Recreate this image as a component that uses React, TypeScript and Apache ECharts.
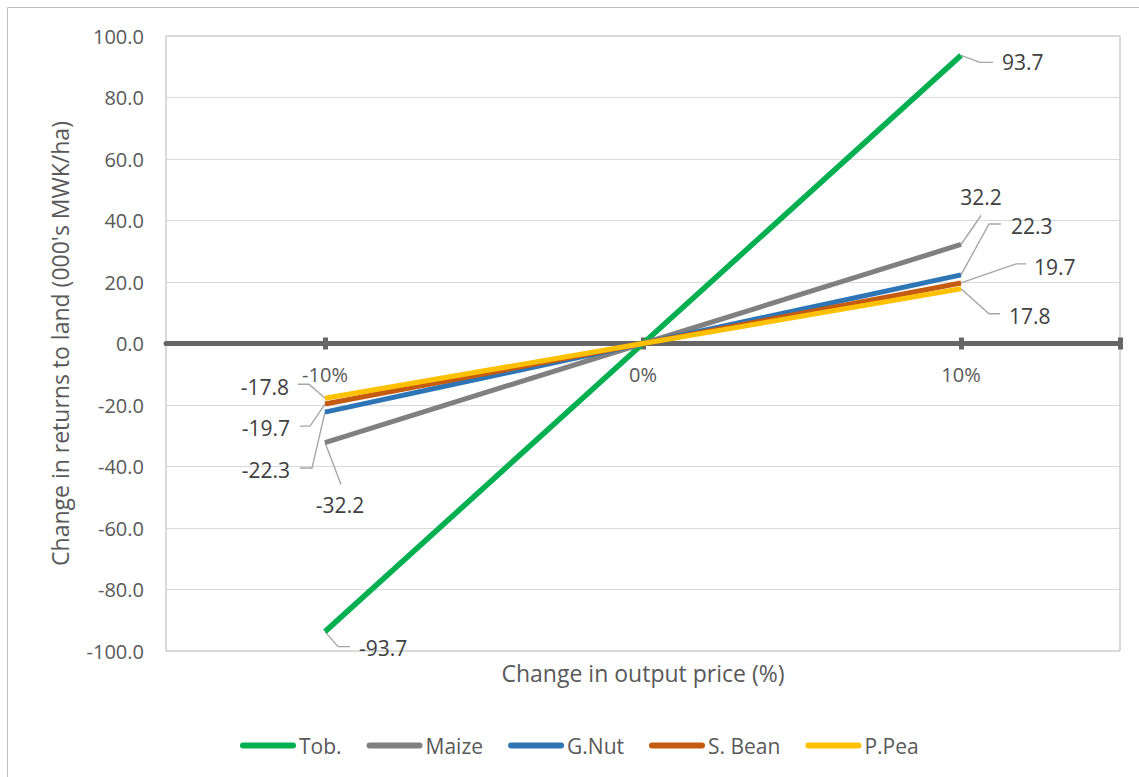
import React, { useEffect, useRef } from "react";
import * as echarts from "echarts";

// Price change scenarios (percent) on the horizontal axis
const priceChanges = [-10, 0, 10];

// Change in returns to land, 000's MWK/ha, per crop
const tobValues = [-93.7, 0, 93.7];
const maizeValues = [-32.2, 0, 32.2];
const gnutValues = [-22.3, 0, 22.3];
const sbeanValues = [-19.7, 0, 19.7];
const ppeaValues = [-17.8, 0, 17.8];

const cropNames = ["Tob.", "Maize", "G.Nut", "S. Bean", "P.Pea"];
const cropValues = [tobValues, maizeValues, gnutValues, sbeanValues, ppeaValues];
const cropColors = ["#00B050", "#808080", "#2E75B6", "#C55A11", "#FFC000"];

// Value-axis ticks
const yTicks = { min: -100, max: 100, step: 20 };
const xRange = { min: -15, max: 15 };
const xTickValues = [-10, 0, 10, 15];

// Leader lines for end-point labels: offsets from the data point
// path: bend/end points of the leader; text: label anchor; align: text alignment
const leaderLayouts = [
  [
    { path: [[13, 15], [25, 15]], text: [34, 16], align: "left" },
    { path: [[19, 7], [32, 7]], text: [41, 7], align: "left" },
  ],
  [
    { path: [[16, 42]], text: [15, 62], align: "center" },
    { path: [[20, -29]], text: [20, -47], align: "center" },
  ],
  [
    { path: [[-13, 56], [-25, 56]], text: [-35, 58], align: "right" },
    { path: [[28, -51], [40, -51]], text: [50, -49], align: "left" },
  ],
  [
    { path: [[-15, 22], [-25, 22]], text: [-35, 24], align: "right" },
    { path: [[55, -19], [65, -19]], text: [73, -16], align: "left" },
  ],
  [
    { path: [[-16, -14], [-27, -14]], text: [-36, -11], align: "right" },
    { path: [[28, 25], [39, 25]], text: [48, 27], align: "left" },
  ],
];

const FONT = "'Open Sans', 'Noto Sans', sans-serif";
const AXIS_TEXT = "#595959";
const LABEL_TEXT = "#404040";
const AXIS_DARK = "#666666";

const pillIcon = "path://M3,0 H53 A3,3 0 0 1 53,6 H3 A3,3 0 0 1 3,0 Z";

export default function App() {
  const ref = useRef<HTMLDivElement>(null);

  useEffect(() => {
    if (!ref.current) return;
    const chart = echarts.init(ref.current, null, { renderer: "svg" });

    const xAxisCommon = {
      type: "value",
      min: xRange.min,
      max: xRange.max,
      splitLine: { show: false },
    };

    chart.setOption({
      animation: false,
      backgroundColor: "#ffffff",
      textStyle: { fontFamily: FONT },
      grid: {
        left: 166,
        right: 19,
        top: 36,
        bottom: 126,
        containLabel: false,
        outerBoundsMode: "none",
        show: true,
        borderColor: "#b4b4b4",
        borderWidth: 1,
        backgroundColor: "transparent",
      },
      xAxis: [
        {
          ...xAxisCommon,
          position: "bottom",
          axisLine: { show: true, onZero: false, lineStyle: { color: AXIS_DARK, width: 5 } },
          axisTick: {
            show: true,
            customValues: xTickValues,
            length: 6,
            lineStyle: { color: AXIS_DARK, width: 5 },
          },
          axisLabel: {
            show: true,
            customValues: priceChanges,
            formatter: (v: number) => `${v}%`,
            margin: 21,
            fontSize: 20,
            color: AXIS_TEXT,
            fontFamily: FONT,
          },
        },
        {
          ...xAxisCommon,
          position: "top",
          axisLine: { show: false, onZero: false },
          axisTick: {
            show: true,
            customValues: xTickValues,
            length: 6,
            lineStyle: { color: AXIS_DARK, width: 5 },
          },
          axisLabel: { show: false },
        },
      ],
      yAxis: {
        type: "value",
        min: yTicks.min,
        max: yTicks.max,
        interval: yTicks.step,
        name: "Change in returns to land (000's MWK/ha)",
        nameLocation: "middle",
        nameGap: 95,
        nameTextStyle: { fontSize: 23, color: AXIS_TEXT, fontFamily: FONT },
        axisLine: { show: false, onZero: false },
        axisTick: { show: false },
        axisLabel: {
          formatter: (v: number) => v.toFixed(1),
          margin: 22,
          fontSize: 20,
          color: AXIS_TEXT,
          fontFamily: FONT,
        },
        splitLine: { show: true, lineStyle: { color: "#d9d9d9", width: 1 } },
      },
      legend: {
        data: cropNames,
        left: 235,
        top: 730,
        icon: pillIcon,
        itemWidth: 56,
        itemHeight: 6,
        itemGap: 25,
        textStyle: { fontSize: 21, color: AXIS_TEXT, fontFamily: FONT, padding: [0, 0, 0, -2] },
      },
      series: cropNames.map((name, i) => ({
        name,
        type: "line",
        xAxisIndex: 0,
        data: priceChanges.map((p, j) => [p, cropValues[i][j]]),
        symbol: "none",
        color: cropColors[i],
        lineStyle: { color: cropColors[i], width: i === 0 ? 5.5 : 5 },
        z: 2 + i,
      })),
    });

    // Move the horizontal axis (line, ticks, labels) up to the zero level
    const yZero = chart.convertToPixel({ yAxisIndex: 0 }, 0) as number;
    const yBottom = chart.convertToPixel({ yAxisIndex: 0 }, yTicks.min) as number;
    const yTop = chart.convertToPixel({ yAxisIndex: 0 }, yTicks.max) as number;
    chart.setOption({
      xAxis: [{ offset: -(yBottom - yZero) }, { offset: -(yZero - yTop) }],
    });

    // Leader lines and value labels for the end points
    const graphics: any[] = [
      {
        type: "rect",
        silent: true,
        z: -10,
        shape: { x: 7.5, y: 7.5, width: 1140, height: 780 },
        style: { fill: "none", stroke: "#bfbfbf", lineWidth: 1 },
      },
    ];
    cropValues.forEach((vals, si) => {
      [0, priceChanges.length - 1].forEach((pi, side) => {
        const pt = chart.convertToPixel({ seriesIndex: si }, [priceChanges[pi], vals[pi]]) as number[];
        const lay = leaderLayouts[si][side];
        const pts = [[pt[0], pt[1]], ...lay.path.map(([dx, dy]) => [pt[0] + dx, pt[1] + dy])];
        graphics.push({
          type: "polyline",
          silent: true,
          z: 1,
          shape: { points: pts },
          style: { stroke: "#a6a6a6", lineWidth: 1.4, fill: null },
        });
        graphics.push({
          type: "text",
          silent: true,
          z: 20,
          x: pt[0] + lay.text[0],
          y: pt[1] + lay.text[1],
          style: {
            text: vals[pi].toFixed(1),
            fontSize: 21,
            fontFamily: FONT,
            fill: LABEL_TEXT,
            align: lay.align,
            verticalAlign: "middle",
          },
        });
      });
    });

    // Horizontal axis title under the plot area
    const xMid = chart.convertToPixel({ xAxisIndex: 0 }, (xRange.min + xRange.max) / 2) as number;
    graphics.push({
      type: "text",
      silent: true,
      x: xMid,
      y: yBottom + 22,
      style: {
        text: "Change in output price (%)",
        fontSize: 23,
        fontFamily: FONT,
        fill: AXIS_TEXT,
        align: "center",
        verticalAlign: "middle",
      },
    });

    chart.setOption({ graphic: graphics });

    return () => chart.dispose();
  }, []);

  return (
    <div
      ref={ref}
      style={{ position: "fixed", left: 0, top: 0, width: 1139, height: 777, background: "#fff" }}
    />
  );
}
